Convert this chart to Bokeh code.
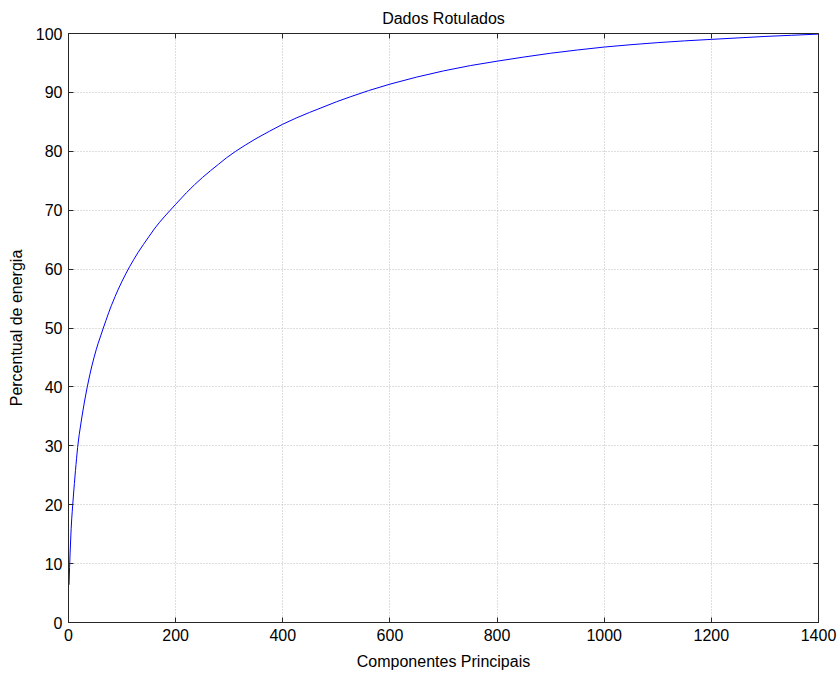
from bokeh.plotting import figure
from bokeh.models import LinearAxis, FixedTicker, Range1d, CustomJSTickFormatter
from bokeh.embed import file_html
from bokeh.resources import INLINE

# Data (cumulative energy per principal component)
componentes = [1, 2, 3, 4, 5, 6, 7, 8, 9, 10, 11, 12, 13, 14, 15, 17, 20, 25, 30,
               35, 40, 44, 48, 52, 55, 60, 65, 70, 75, 80, 87, 93, 100, 107, 114,
               122, 130, 140, 150, 160, 170, 180, 190, 200, 220, 235, 250, 265,
               280, 295, 312, 330, 350, 375, 400, 425, 450, 475, 500, 526, 560,
               600, 650, 700, 750, 800, 850, 900, 950, 1000, 1050, 1100, 1150,
               1200, 1250, 1300, 1350, 1400]
energia = [6.4, 9.3, 11.8, 14.0, 16.0, 17.6, 18.9, 20.1, 21.3, 22.5, 23.6, 24.7,
           25.8, 26.8, 27.8, 29.7, 31.9, 34.9, 37.6, 40.0, 42.15, 43.7, 45.1, 46.4,
           47.3, 48.65, 50.0, 51.3, 52.6, 53.8, 55.35, 56.6, 57.95, 59.2, 60.4, 61.65,
           62.85, 64.2, 65.5, 66.8, 67.95, 69.0, 70.0, 71.0, 72.95, 74.3, 75.55, 76.7,
           77.8, 78.9, 80.0, 81.05, 82.15, 83.4, 84.6, 85.65, 86.6, 87.5, 88.4, 89.25,
           90.3, 91.4, 92.6, 93.65, 94.55, 95.3, 96.0, 96.65, 97.2, 97.7, 98.1, 98.45,
           98.75, 99.0, 99.25, 99.5, 99.7, 99.9]
x_ticks = [0, 200, 400, 600, 800, 1000, 1200, 1400]
y_ticks = [0, 10, 20, 30, 40, 50, 60, 70, 80, 90, 100]

FONT = "Liberation Sans"
AXIS_COLOR = "#262626"

p = figure(width=837, height=675, output_backend="svg", toolbar_location=None,
           x_range=Range1d(0, 1400), y_range=Range1d(0, 100),
           min_border_left=68, min_border_right=19, min_border_top=33,
           min_border_bottom=53, title="Dados Rotulados")
p.title.align = "center"
p.title.text_font = FONT
p.title.text_font_size = "16px"
p.title.text_font_style = "normal"
p.title.text_color = "#000000"
p.title.standoff = 13

p.line(componentes, energia, line_color="#0000ff", line_width=1)

p.outline_line_color = AXIS_COLOR
p.outline_line_width = 1
p.background_fill_color = "white"
p.border_fill_color = "white"

def style_axis(ax, show_labels=True):
    ax.axis_line_color = AXIS_COLOR
    ax.major_tick_line_color = AXIS_COLOR
    ax.major_tick_in = 5
    ax.major_tick_out = 0
    ax.minor_tick_in = 0
    ax.minor_tick_out = 0
    ax.major_label_text_font = FONT
    ax.major_label_text_color = "#000000"
    ax.major_label_text_font_size = "16px"
    ax.major_label_standoff = 6
    if not show_labels:
        ax.formatter = CustomJSTickFormatter(code="return '';")
        ax.major_label_standoff = 0
    ax.axis_label_text_font = FONT
    ax.axis_label_text_font_size = "16px"
    ax.axis_label_text_font_style = "normal"
    ax.axis_label_text_color = "#000000"

xt = FixedTicker(ticks=x_ticks)
yt = FixedTicker(ticks=y_ticks)

p.xaxis.ticker = xt
p.yaxis.ticker = yt
p.xaxis.axis_label = "Componentes Principais"
p.yaxis.axis_label = "Percentual de energia"
for ax in p.xaxis:
    style_axis(ax)
    ax.axis_label_standoff = 9
for ax in p.yaxis:
    style_axis(ax)
    ax.axis_label_standoff = 8

top_ax = LinearAxis(ticker=xt)
style_axis(top_ax, show_labels=False)
p.add_layout(top_ax, "above")
right_ax = LinearAxis(ticker=yt)
style_axis(right_ax, show_labels=False)
p.add_layout(right_ax, "right")

p.xgrid.ticker = xt
p.ygrid.ticker = yt
for g in (p.xgrid, p.ygrid):
    g.grid_line_color = "#bdbdbd"
    g.grid_line_dash = "1 2"
    g.grid_line_width = 1

open("out.html", "w").write(file_html(p, INLINE))
